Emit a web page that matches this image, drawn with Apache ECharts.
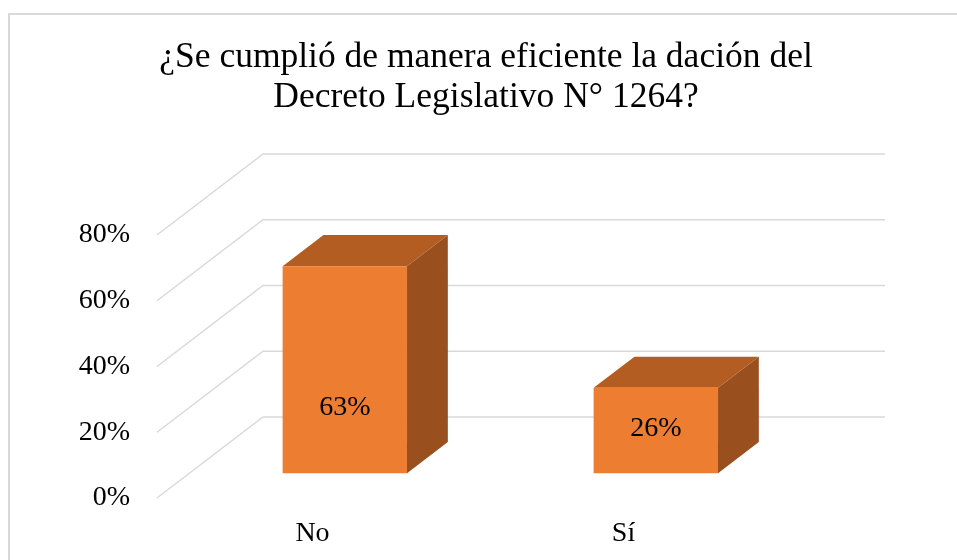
<html lang="es">
  <head>
    <meta charset="UTF-8" />
    <title>Decreto Legislativo N° 1264</title>
  </head>
  <body style="margin: 0">
    <div id="main" style="width: 957px; height: 560px"></div>

    <script src="https://cdn.jsdelivr.net/npm/echarts@6/dist/echarts.min.js"></script>
    <script>
      // datos
      let categorias = ['No', 'Sí']
      let valores = [0.63, 0.26]
      let ticksY = [0, 0.2, 0.4, 0.6, 0.8]

      // desplazamiento de la pared del fondo (perspectiva 3D)
      const DX = 106
      const DY = -81
      const T0 = 0.305 // cara frontal de la barra
      const T1 = 0.69 // cara trasera de la barra
      const fuente = 'Liberation Serif'

      let myChart = echarts.init(document.getElementById('main'))

      let option = {
        animation: false,
        title: {
          text: '¿Se cumplió de manera eficiente la dación del\nDecreto Legislativo N° 1264?',
          left: 486,
          textAlign: 'center',
          top: 38,
          padding: 0,
          textStyle: {
            fontFamily: fuente,
            fontSize: 35.5,
            fontWeight: 'normal',
            color: '#000',
            lineHeight: 40
          }
        },
        graphic: [
          {
            type: 'rect',
            shape: { x: 9, y: 14, width: 1200, height: 800 },
            style: { fill: null, stroke: '#d9d9d9', lineWidth: 2 },
            silent: true
          }
        ],
        grid: {
          left: 157,
          right: 178,
          top: 235,
          bottom: 62
        },
        xAxis: {
          type: 'category',
          data: categorias,
          axisLine: { show: false },
          axisTick: { show: false },
          axisLabel: {
            margin: 22,
            fontFamily: fuente,
            fontSize: 28,
            color: '#000'
          }
        },
        yAxis: {
          type: 'value',
          min: 0,
          max: 0.8,
          interval: 0.2,
          splitLine: { show: false },
          axisLine: { show: false },
          axisTick: { show: false },
          axisLabel: {
            margin: 27,
            fontFamily: fuente,
            fontSize: 28,
            color: '#000',
            formatter: function (v) {
              return Math.round(v * 100) + '%'
            }
          }
        },
        series: [
          {
            // paredes: lineas de la pared lateral y del fondo
            type: 'custom',
            z: 1,
            silent: true,
            clip: false,
            encode: { x: 0, y: 1 },
            data: ticksY.map(function (t) {
              return [0, t]
            }),
            renderItem: function (params, api) {
              let cs = params.coordSys
              let y = api.coord([0, api.value(1)])[1]
              let x0 = cs.x
              let x1 = cs.x + cs.width
              return {
                type: 'polyline',
                shape: {
                  points: [
                    [x0, y],
                    [x0 + DX, y + DY],
                    [x1 + DX, y + DY]
                  ]
                },
                style: { fill: null, stroke: '#d9d9d9', lineWidth: 1.5 }
              }
            }
          },
          {
            type: 'custom',
            z: 5,
            clip: false,
            encode: { x: 0, y: 1 },
            data: valores.map(function (v, i) {
              return [i, v]
            }),
            renderItem: function (params, api) {
              let i = api.value(0)
              let v = api.value(1)
              let base = api.coord([i, 0])
              let top = api.coord([i, v])
              let bw = api.size([1, 0])[0] * 0.4
              let xl = base[0] - bw / 2
              let xr = base[0] + bw / 2
              let fx = T0 * DX, fy = T0 * DY
              let bx = T1 * DX, by = T1 * DY
              let h = base[1] - top[1]
              let labelY = base[1] + fy - (30 + 0.17 * h)
              return {
                type: 'group',
                children: [
                  {
                    type: 'polygon',
                    shape: {
                      points: [
                        [xl + fx, top[1] + fy],
                        [xr + fx, top[1] + fy],
                        [xr + bx, top[1] + by],
                        [xl + bx, top[1] + by]
                      ]
                    },
                    style: { fill: '#B45D22' }
                  },
                  {
                    type: 'polygon',
                    shape: {
                      points: [
                        [xr + fx, top[1] + fy],
                        [xr + bx, top[1] + by],
                        [xr + bx, base[1] + by],
                        [xr + fx, base[1] + fy]
                      ]
                    },
                    style: { fill: '#9A4F1E' }
                  },
                  {
                    type: 'rect',
                    shape: { x: xl + fx, y: top[1] + fy, width: bw, height: h },
                    style: { fill: '#ED7D31' }
                  },
                  {
                    type: 'text',
                    style: {
                      text: Math.round(v * 100) + '%',
                      x: base[0] + fx,
                      y: labelY,
                      align: 'center',
                      verticalAlign: 'middle',
                      fontFamily: fuente,
                      fontSize: 28,
                      fill: '#000'
                    }
                  }
                ]
              }
            }
          }
        ]
      }
      myChart.setOption(option)
    </script>
  </body>
</html>
